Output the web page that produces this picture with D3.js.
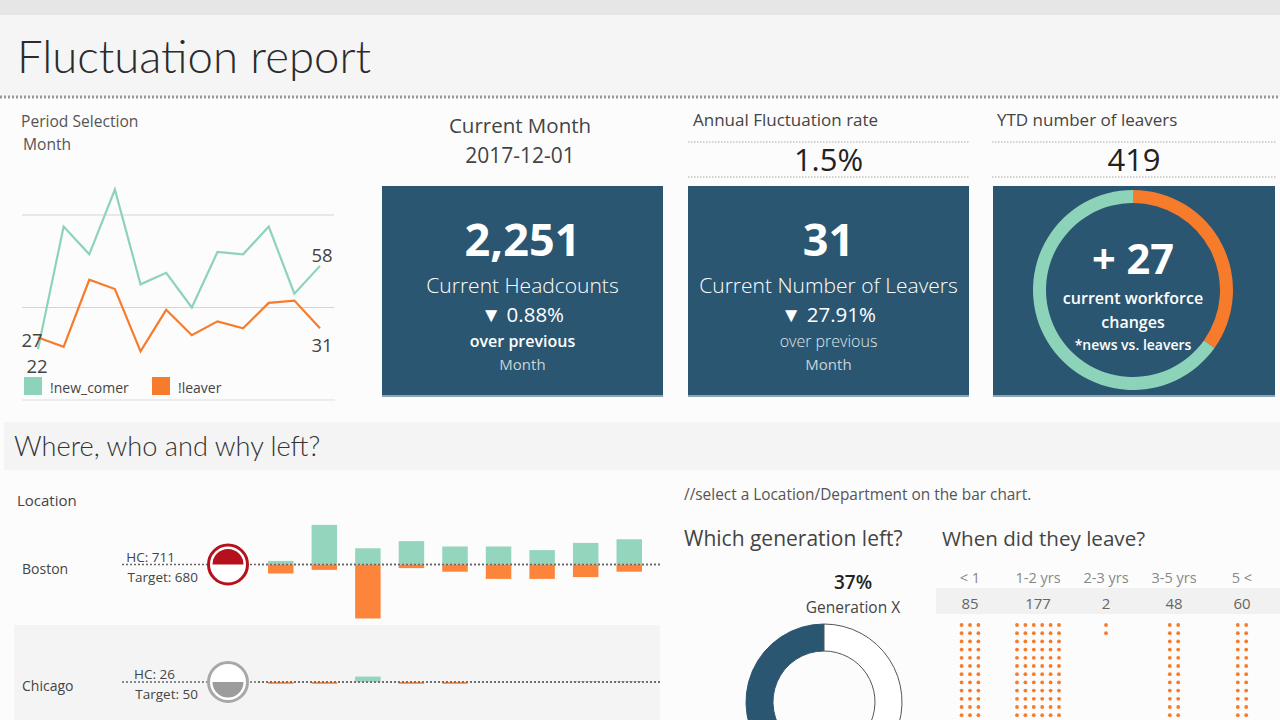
<!DOCTYPE html>
<html>
<head>
<meta charset="utf-8">
<script src="https://cdn.jsdelivr.net/npm/d3@7"></script>
<style>
  body { margin: 0; background: #fcfcfc; }
  svg { display: block; font-family: "Open Sans", "Noto Sans", sans-serif; }
</style>
</head>
<body>
<script>
// monthly trend 2017
let months = ["Jan", "Feb", "Mar", "Apr", "May", "Jun", "Jul", "Aug", "Sep", "Oct", "Nov", "Dec"];
let newComers = [22, 75, 63, 91, 50, 55, 40, 64, 63, 75, 46, 58];
let leavers = [27, 23, 52, 48, 21, 39, 28, 34, 31, 42, 43, 31];
let gridTicks = [40, 80];

// KPIs
let currentMonth = "2017-12-01";
let headcount = 2251;
let headcountChange = -0.88;
let leaversChange = -27.91;
let annualRate = 1.5;

// location bars
let locations = ["Boston", "Chicago"];
let locHC = [711, 26];
let locTarget = [680, 50];
let barPeriods = ["Apr", "May", "Jun", "Jul", "Aug", "Sep", "Oct", "Nov", "Dec"];
let locNew = [
    [2, 22, 9, 13, 10, 10, 8, 12, 14],
    [0, 0, 3, 0, 0, 0, 0, 0.5, 0.5]
];
let locLeavers = [
    [5, 3, 30, 2, 4, 8, 8, 7, 4],
    [1, 1, 0, 1, 1, 0, 0, 0, 0]
];

// generation + tenure
let generations = ["Generation X", "Other"];
let genShare = [0.37, 0.63];
let tenureBands = ["< 1", "1-2 yrs", "2-3 yrs", "3-5 yrs", "5 <"];
let tenureLeavers = [85, 177, 2, 48, 60];

let width = 1280, height = 720;
let green = "#8dd3b9", orange = "#f67c2c", navy = "#2b5671";
let svg = d3.select("body").append("svg").attr("width", width).attr("height", height);

function txt(g, x, y, s, size, opts = {}) {
    let t = g.append("text")
        .attr("x", x).attr("y", y)
        .attr("font-size", size)
        .attr("fill", opts.fill || "#333")
        .attr("font-weight", opts.weight || 400)
        .attr("text-anchor", opts.anchor || "start")
        .text(s);
    if (opts.family) t.attr("font-family", opts.family);
    return t;
}

// ---- header
svg.append("rect").attr("width", width).attr("height", 15).attr("fill", "#e6e6e6");
svg.append("rect").attr("y", 15).attr("width", width).attr("height", 82).attr("fill", "#f5f5f5");
svg.append("line").attr("x1", 0).attr("x2", width).attr("y1", 97).attr("y2", 97)
    .attr("stroke", "#999").attr("stroke-width", 3).attr("stroke-dasharray", "2,2");
txt(svg, 17, 73, "Fluctuation report", 45.5, {weight: 300, fill: "#2b2b2b", family: "Lato"});

// ---- period line chart
txt(svg, 21, 127, "Period Selection", 15.6, {fill: "#555"});
txt(svg, 23, 150, "Month", 15.6, {fill: "#555"});

let x = d3.scalePoint().domain(months).range([38, 320]);
let y = d3.scaleLinear().domain([0, 80]).range([400, 215]);

svg.append("g").selectAll("line").data(gridTicks).join("line")
    .attr("x1", 22).attr("x2", 334)
    .attr("y1", d => y(d)).attr("y2", d => y(d))
    .attr("stroke", "#d4d4d4");

let line = d3.line().x((d, i) => x(months[i])).y(d => y(d));
[[newComers, green], [leavers, orange]].forEach(([vals, c]) => {
    svg.append("path").datum(vals).attr("d", line)
        .attr("fill", "none").attr("stroke", c).attr("stroke-width", 2.2);
});
let last = months.length - 1;
txt(svg, 32, 347, leavers[0], 18.5, {anchor: "middle", fill: "#444"});
txt(svg, 37, 373, newComers[0], 18.5, {anchor: "middle", fill: "#444"});
txt(svg, x(months[last]) + 2, 262, newComers[last], 18.5, {anchor: "middle", fill: "#444"});
txt(svg, x(months[last]) + 2, 352, leavers[last], 18.5, {anchor: "middle", fill: "#444"});

let legend = [["!new_comer", green, 24], ["!leaver", orange, 152]];
legend.forEach(([name, c, lx]) => {
    svg.append("rect").attr("x", lx).attr("y", 377).attr("width", 18).attr("height", 18).attr("fill", c);
    txt(svg, lx + 26, 393, name, 14, {fill: "#444"});
});
svg.append("line").attr("x1", 22).attr("x2", 335).attr("y1", 400).attr("y2", 400).attr("stroke", "#ddd");

// ---- KPI header texts
txt(svg, 520, 133, "Current Month", 20.5, {anchor: "middle", fill: "#444"});
txt(svg, 520, 163, currentMonth, 21, {anchor: "middle", fill: "#444"});

let fmtPct = d3.format(".2f");
let kpiTops = [
    {x0: 688, x1: 969, title: "Annual Fluctuation rate", value: annualRate + "%"},
    {x0: 992, x1: 1276, title: "YTD number of leavers", value: d3.sum(leavers)}
];
kpiTops.forEach(k => {
    txt(svg, k.x0 + 5, 126, k.title, 17, {fill: "#444"});
    [142, 177].forEach(ly => svg.append("line").attr("x1", k.x0).attr("x2", k.x1)
        .attr("y1", ly).attr("y2", ly).attr("stroke", "#aaa").attr("stroke-dasharray", "1.5,1.5"));
    txt(svg, (k.x0 + k.x1) / 2, 171, k.value, 31, {anchor: "middle", fill: "#222"});
});

// ---- cards
let cards = [
    {x0: 382, x1: 663, big: d3.format(",")(headcount), label: "Current Headcounts",
        change: headcountChange, overBold: true},
    {x0: 688, x1: 969, big: leavers[last], label: "Current Number of Leavers",
        change: leaversChange, overBold: false},
    {x0: 993, x1: 1275}
];
cards.forEach(c => {
    svg.append("rect").attr("x", c.x0).attr("y", 186).attr("width", c.x1 - c.x0).attr("height", 211).attr("fill", navy);
    svg.append("rect").attr("x", c.x0).attr("y", 395).attr("width", c.x1 - c.x0).attr("height", 2).attr("fill", "#8da3b1");
    if (!c.big && c.big !== 0) return;
    let cx = (c.x0 + c.x1) / 2;
    txt(svg, cx, 256, c.big, 45, {anchor: "middle", fill: "#fff", weight: 700});
    txt(svg, cx, 293, c.label, 21, {anchor: "middle", fill: "#fff", weight: 300});
    txt(svg, cx, 322, (c.change < 0 ? "▼ " : "▲ ") + fmtPct(Math.abs(c.change)) + "%", 20.5, {anchor: "middle", fill: "#fff"});
    txt(svg, cx, 347, "over previous", 16, {anchor: "middle", fill: c.overBold ? "#fff" : "#dfe6ea", weight: c.overBold ? 600 : 300});
    txt(svg, cx, 370, "Month", 15, {anchor: "middle", fill: "#c8d3da", weight: 400});
});

// workforce ring
let ringData = [leavers[last], newComers[last]];
let ringArcs = d3.pie().sort(null)(ringData);
let ringArc = d3.arc().innerRadius(87).outerRadius(100);
let ring = svg.append("g").attr("transform", "translate(1133,290)");
ring.selectAll("path").data(ringArcs).join("path")
    .attr("d", ringArc).attr("fill", (d, i) => i === 0 ? orange : green);
let net = newComers[last] - leavers[last];
txt(ring, 0, -16, (net >= 0 ? "+ " : "- ") + Math.abs(net), 41.5, {anchor: "middle", fill: "#fff", weight: 700});
txt(ring, 0, 14, "current workforce", 16, {anchor: "middle", fill: "#fff", weight: 600});
txt(ring, 0, 38, "changes", 16, {anchor: "middle", fill: "#fff", weight: 600});
txt(ring, 0, 60, "*news vs. leavers", 14, {anchor: "middle", fill: "#fff", weight: 600});

// ---- section 2
svg.append("rect").attr("x", 4).attr("y", 422).attr("width", width - 4).attr("height", 48).attr("fill", "#f4f4f4");
txt(svg, 14, 456, "Where, who and why left?", 27.2, {weight: 300, fill: "#333", family: "Lato"});

txt(svg, 17, 506, "Location", 15, {fill: "#444"});
svg.append("rect").attr("x", 14).attr("y", 625).attr("width", 646).attr("height", 95).attr("fill", "#f4f4f4");

let bx = d3.scaleBand().domain(barPeriods).range([258, 652]).paddingInner(0.415).paddingOuter(0.23);
let bh = d3.scaleLinear().domain([0, 10]).range([0, 18]);
let rowBase = [564.5, 682];
let halfArc = d3.arc().innerRadius(0).outerRadius(15.5);

locations.forEach((loc, r) => {
    let yb = rowBase[r];
    let g = svg.append("g");
    txt(g, 22, yb + 9, loc, 14, {fill: "#444"});
    g.append("line").attr("x1", 122).attr("x2", 660).attr("y1", yb).attr("y2", yb)
        .attr("stroke", "#666").attr("stroke-width", 1.3).attr("stroke-dasharray", "2,2");
    txt(g, 175, yb - 3, "HC: " + locHC[r], 13.5, {anchor: "end", fill: "#444"});
    txt(g, 198, yb + 17, "Target: " + locTarget[r], 13.5, {anchor: "end", fill: "#444"});

    let over = locHC[r] > locTarget[r];
    let col = over ? "#b5111d" : "#9c9c9c";
    g.append("circle").attr("cx", 228).attr("cy", yb).attr("r", 19.5)
        .attr("fill", "#fff").attr("stroke", over ? col : "#a8a8a8").attr("stroke-width", 3);
    g.append("path").attr("transform", `translate(228,${yb})`)
        .attr("d", halfArc({startAngle: over ? -Math.PI / 2 : Math.PI / 2, endAngle: over ? Math.PI / 2 : Math.PI * 1.5}))
        .attr("fill", col);

    g.selectAll(".n").data(locNew[r]).join("rect").attr("class", "n")
        .attr("x", (d, i) => bx(barPeriods[i])).attr("width", bx.bandwidth())
        .attr("y", d => yb - bh(d)).attr("height", d => bh(d)).attr("fill", "#93d5bd");
    g.selectAll(".l").data(locLeavers[r]).join("rect").attr("class", "l")
        .attr("x", (d, i) => bx(barPeriods[i])).attr("width", bx.bandwidth())
        .attr("y", yb).attr("height", d => bh(d)).attr("fill", "#fd853b");
    // keep baseline on top
    g.append("line").attr("x1", 258).attr("x2", 660).attr("y1", yb).attr("y2", yb)
        .attr("stroke", "#666").attr("stroke-width", 1.3).attr("stroke-dasharray", "2,2");
});

// ---- right side
txt(svg, 684, 500, "//select a Location/Department on the bar chart.", 15.4, {fill: "#555"});
txt(svg, 684, 546, "Which generation left?", 21, {fill: "#444"});
txt(svg, 942, 546, "When did they leave?", 20.6, {fill: "#444"});

// generation donut
let gStart = -genShare[0] * 2 * Math.PI;
let genArcs = d3.pie().sort(null).startAngle(gStart).endAngle(gStart + 2 * Math.PI)(genShare);
let genArc = d3.arc().innerRadius(51).outerRadius(78);
svg.append("g").attr("transform", "translate(824,702)")
    .selectAll("path").data(genArcs).join("path")
    .attr("d", genArc)
    .attr("fill", (d, i) => i === 0 ? navy : "#fff")
    .attr("stroke", (d, i) => i === 0 ? navy : "#555")
    .attr("stroke-width", 1);
txt(svg, 853, 589, Math.round(genShare[0] * 100) + "%", 19, {anchor: "middle", fill: "#222", weight: 600});
txt(svg, 853, 613, generations[0], 15.5, {anchor: "middle", fill: "#444"});

// tenure dots
let tx = d3.scaleBand().domain(tenureBands).range([936, 1276]);
svg.append("rect").attr("x", 936).attr("y", 588).attr("width", 344).attr("height", 26).attr("fill", "#f1f1f1");
tenureBands.forEach((b, i) => {
    let cx = tx(b) + tx.bandwidth() / 2;
    txt(svg, cx, 583, b, 14.5, {anchor: "middle", fill: "#888"});
    txt(svg, cx, 609, tenureLeavers[i], 15, {anchor: "middle", fill: "#666"});
    let cols = Math.ceil(tenureLeavers[i] / 30);
    let dots = d3.range(tenureLeavers[i]).map(k => ({c: k % cols, r: Math.floor(k / cols)}));
    svg.append("g").selectAll("circle").data(dots).join("circle")
        .attr("cx", d => cx + (d.c - (cols - 1) / 2) * 8.4)
        .attr("cy", d => 625 + d.r * 8.2)
        .attr("r", 1.9).attr("fill", orange);
});
</script>
</body>
</html>
